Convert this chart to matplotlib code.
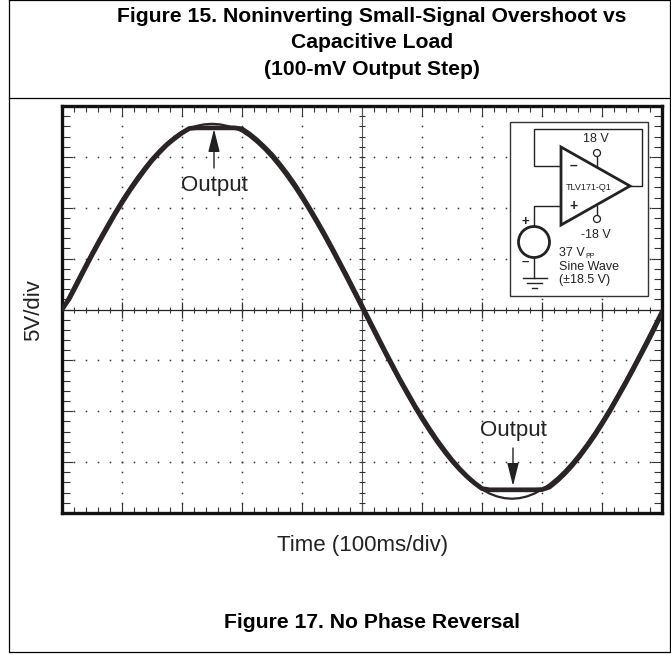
import numpy as np
import matplotlib
matplotlib.use('Agg')
import matplotlib.pyplot as plt
from matplotlib.patches import Circle, Polygon, Rectangle
from matplotlib.ticker import MultipleLocator, NullFormatter

plt.rcParams['font.family'] = ['Liberation Sans', 'DejaVu Sans']

# time in divisions, voltage in volts
time_div = [0, 0.125, 0.25, 0.375, 0.5, 0.625, 0.75, 0.875, 1, 1.125, 1.25, 1.375, 1.5, 1.625, 1.75, 1.875,
            2, 2.125, 2.25, 2.375, 2.5, 2.625, 2.75, 2.875, 3, 3.125, 3.25, 3.375, 3.5, 3.625, 3.75, 3.875,
            4, 4.125, 4.25, 4.375, 4.5, 4.625, 4.75, 4.875, 5, 5.125, 5.25, 5.375, 5.5, 5.625, 5.75, 5.875,
            6, 6.125, 6.25, 6.375, 6.5, 6.625, 6.75, 6.875, 7, 7.125, 7.25, 7.375, 7.5, 7.625, 7.75, 7.875,
            8, 8.125, 8.25, 8.375, 8.5, 8.625, 8.75, 8.875, 9, 9.125, 9.25, 9.375, 9.5, 9.625, 9.75, 9.875, 10]
input_v = [0, 1.44, 2.88, 4.29, 5.69, 7.04, 8.35, 9.61, 10.82, 11.95, 13.01, 13.99, 14.89, 15.69, 16.39, 17.0,
           17.5, 17.85, 18.05, 18.2, 18.25, 18.2, 18.05, 17.85, 17.5, 17.0, 16.39, 15.69, 14.89, 13.99, 13.01, 11.95,
           10.82, 9.61, 8.35, 7.04, 5.69, 4.29, 2.88, 1.44, 0, -1.46, -2.91, -4.34, -5.75, -7.12, -8.44, -9.72,
           -10.93, -12.08, -13.15, -14.14, -15.05, -15.86, -16.57, -17.18, -17.69, -18.09, -18.37, -18.54, -18.6, -18.54, -18.37, -18.09,
           -17.69, -17.18, -16.57, -15.86, -15.05, -14.14, -13.15, -12.08, -10.93, -9.72, -8.44, -7.12, -5.75, -4.34, -2.91, -1.46, 0]
output_v = [0, 1.1, 2.5, 3.95, 5.35, 6.7, 8.0, 9.3, 10.5, 11.65, 12.7, 13.7, 14.65, 15.45, 16.2, 16.8,
            17.35, 17.8, 17.85, 17.85, 17.85, 17.85, 17.85, 17.85, 17.75, 17.25, 16.65, 15.95, 15.2, 14.3, 13.35, 12.3,
            11.15, 9.95, 8.7, 7.4, 6.05, 4.65, 3.25, 1.8, 0.35, -1.1, -2.55, -4.0, -5.4, -6.8, -8.1, -9.4,
            -10.6, -11.75, -12.85, -13.85, -14.8, -15.65, -16.4, -17.05, -17.6, -17.72, -17.72, -17.72, -17.72, -17.72, -17.72, -17.72,
            -17.7, -17.45, -16.85, -16.15, -15.35, -14.45, -13.45, -12.4, -11.25, -10.05, -8.75, -7.45, -6.1, -4.7, -3.3, -1.85, -0.3]

title_lines = ['Figure 15. Noninverting Small-Signal Overshoot vs', 'Capacitive Load', '(100-mV Output Step)']
caption = 'Figure 17. No Phase Reversal'

W, H = 671, 655
fig = plt.figure(figsize=(W / 100, H / 100), dpi=100)

# scope screen
ax = fig.add_axes([62 / W, (H - 513) / H, 600 / W, 407 / H])
ax.set_xlim(0, 10)
ax.set_ylim(-20, 20)
ax.xaxis.set_major_locator(MultipleLocator(1))
ax.xaxis.set_minor_locator(MultipleLocator(0.2))
ax.yaxis.set_major_locator(MultipleLocator(5))
ax.yaxis.set_minor_locator(MultipleLocator(1))
ax.xaxis.set_major_formatter(NullFormatter())
ax.yaxis.set_major_formatter(NullFormatter())
ax.tick_params(which='major', direction='in', top=True, right=True, length=7, width=0.8, color='#333333')
ax.tick_params(which='minor', direction='in', top=True, right=True, length=4.5, width=0.8, color='#333333')
ax.tick_params(axis='y', which='minor', length=5.5)
ax.tick_params(axis='y', which='major', length=8)
for s in ax.spines.values():
    s.set_linewidth(2.4)
    s.set_color('#111111')

# dotted graticule
xfine = np.arange(0, 10.01, 0.2)
yfine = np.arange(-20, 20.01, 1)
for gx in range(1, 10):
    if gx != 5:
        ax.plot([gx] * len(yfine), yfine, ls='none', marker='s', ms=1.1, color='#333333', mew=0)
for gy in [-15, -10, -5, 5, 10, 15]:
    ax.plot(xfine, [gy] * len(xfine), ls='none', marker='s', ms=1.1, color='#333333', mew=0)

# centre cross with its ticks
ax.axhline(0, color='#222222', lw=0.9)
ax.axvline(5, color='#555555', lw=0.8)
ax.plot(xfine, [0] * len(xfine), ls='none', marker='|', ms=5, mew=0.8, color='#333333')
ax.plot(np.arange(0, 10.5, 1), [0] * 11, ls='none', marker='|', ms=12, mew=0.9, color='#333333')
ax.plot([5] * len(yfine), yfine, ls='none', marker='_', ms=4.5, mew=0.8, color='#333333')

ax.plot(time_div, input_v, color='#2a2424', lw=1.6, zorder=4)
ax.plot(time_div, output_v, color='#2a2424', lw=3.4, zorder=5)

# page overlay in pixel coordinates
ov = fig.add_axes([0, 0, 1, 1], zorder=10)
ov.set_xlim(0, W)
ov.set_ylim(H, 0)
ov.axis('off')
ov.patch.set_alpha(0)

ov.plot([8.5, 8.5, 670, 670, 8.5], [0, 651.5, 651.5, 0, 0], color='black', lw=0.9, clip_on=False)
ov.plot([8.5, 670], [98, 98], color='black', lw=0.9)

for txt, y in zip(title_lines, [21.7, 48, 75]):
    ov.text(372, y, txt, ha='center', va='baseline', fontsize=15.2, fontweight='bold', color='black')
ov.text(372, 628, caption, ha='center', va='baseline', fontsize=15.2, fontweight='bold', color='black')
ov.text(363, 551.5, 'Time (100ms/div)', ha='center', va='baseline', fontsize=16, color='#222222')
ov.text(39, 310, '5V/div', ha='center', va='baseline', rotation=90, rotation_mode='anchor', fontsize=16, color='#222222')

ov.text(214.5, 191.5, 'Output', ha='center', va='baseline', fontsize=16, color='#222222')
ov.text(513, 436, 'Output', ha='center', va='baseline', fontsize=16, color='#222222')
arrow = dict(arrowstyle='-|>,head_width=0.35,head_length=1.4', color='#222222', lw=1,
             shrinkA=0, shrinkB=0, mutation_scale=10)
ov.annotate('', xy=(214, 129), xytext=(214, 168), arrowprops=arrow)
ov.annotate('', xy=(513, 486), xytext=(513, 448), arrowprops=arrow)

# circuit inset
ink = '#222222'
ov.add_patch(Rectangle((510, 122), 138, 174, fc='white', ec='#333333', lw=1, zorder=2))
ov.plot([561, 534, 534, 642, 642, 630], [166, 166, 129, 129, 186, 186], color=ink, lw=1, zorder=3)
ov.plot([561, 534, 534], [206, 206, 227], color=ink, lw=1, zorder=3)
ov.add_patch(Polygon([(561, 147), (561, 225), (630, 186)], closed=True, fc='white', ec=ink, lw=2, zorder=4))
ov.plot([597, 597], [157, 166], color=ink, lw=1, zorder=3)
ov.plot([597, 597], [206, 216], color=ink, lw=1, zorder=3)
ov.add_patch(Circle((597, 153), 3.5, fc='white', ec=ink, lw=0.9, zorder=5))
ov.add_patch(Circle((597, 219), 3.5, fc='white', ec=ink, lw=0.9, zorder=5))
ov.add_patch(Circle((534, 242), 15.5, fc='white', ec=ink, lw=2, zorder=5))
ov.plot([534, 534], [257, 278], color=ink, lw=1, zorder=3)
ov.plot([523, 547], [278, 278], color=ink, lw=1, zorder=3)
ov.plot([527, 542], [283, 283], color=ink, lw=1, zorder=3)
ov.plot([532, 537], [288, 288], color=ink, lw=1, zorder=3)

small = dict(color=ink, zorder=6)
ov.text(596, 142.5, '18 V', ha='center', va='baseline', fontsize=9, **small)
ov.text(596, 237.5, '-18 V', ha='center', va='baseline', fontsize=9, **small)
ov.text(589, 190.5, 'TLV171-Q1', ha='center', va='baseline', fontsize=6.5, **small)
ov.text(573, 166, '–', ha='center', va='center', fontsize=10, fontweight='bold', **small)
ov.text(573, 206, '+', ha='center', va='center', fontsize=10, fontweight='bold', **small)
ov.text(525, 222, '+', ha='center', va='center', fontsize=9.5, fontweight='bold', **small)
ov.text(525, 262, '–', ha='center', va='center', fontsize=9.5, fontweight='bold', **small)
ov.text(559, 256.5, '37 V', ha='left', va='baseline', fontsize=9, **small)
ov.text(585, 257.5, 'PP', ha='left', va='baseline', fontsize=5, **small)
ov.text(559, 270.5, 'Sine Wave', ha='left', va='baseline', fontsize=9, **small)
ov.text(559, 283, '(±18.5 V)', ha='left', va='baseline', fontsize=9, **small)

fig.savefig('out.png', dpi=100)
